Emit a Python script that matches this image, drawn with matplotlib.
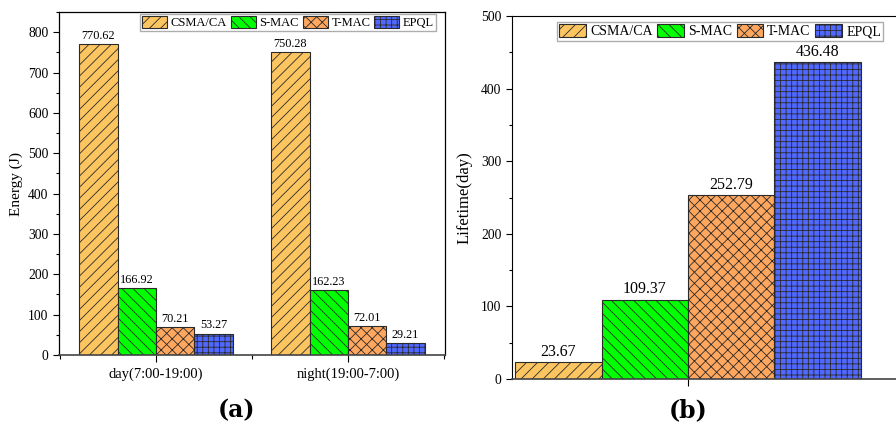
import matplotlib.pyplot as plt
import numpy as np
from matplotlib.ticker import MultipleLocator

plt.rcParams['font.family'] = ['Liberation Serif', 'DejaVu Serif']
plt.rcParams['hatch.linewidth'] = 0.6

# data
protocols = ['CSMA/CA', 'S-MAC', 'T-MAC', 'EPQL']
periods = ['day(7:00-19:00)', 'night(19:00-7:00)']
energy_day = [770.62, 166.92, 70.21, 53.27]
energy_night = [750.28, 162.23, 72.01, 29.21]
lifetime = [23.67, 109.37, 252.79, 436.48]

colors = ['#FCC560', '#00FF00', '#FFA75E', '#5068FF']
hatches = ['///', '\\\\\\', 'xxx', '+++']

fig = plt.figure(figsize=(8.96, 4.32), dpi=100)

# (a) energy
ax1 = fig.add_axes([59/896, 77/432, 386/896, 343/432])
x = np.arange(len(periods))
w = 0.2
for i, p in enumerate(protocols):
    vals = [energy_day[i], energy_night[i]]
    bars = ax1.bar(x + (i - 1.5) * w, vals, w, color=colors[i], hatch=hatches[i],
                   edgecolor='#2a2a2a', linewidth=0.8, label=p)
    for b, v in zip(bars, vals):
        ax1.text(b.get_x() + b.get_width() / 2, v + 5, '%.2f' % v,
                 ha='center', va='bottom', fontsize=8.8)
ax1.set_xlim(-0.505, 1.505)
ax1.set_ylim(0, 850)
ax1.set_xticks(x)
ax1.set_xticklabels(periods, fontsize=10.5)
ax1.xaxis.set_minor_locator(MultipleLocator(0.5))
ax1.yaxis.set_major_locator(MultipleLocator(100))
ax1.yaxis.set_minor_locator(MultipleLocator(50))
ax1.tick_params(axis='y', labelsize=9.8, direction='out', length=4, width=0.8)
ax1.tick_params(axis='y', which='minor', length=2.5, width=0.8)
ax1.tick_params(axis='x', length=5, width=0.8, pad=4)
ax1.tick_params(axis='x', which='minor', length=3, width=0.8)
ax1.set_ylabel('Energy (J)', fontsize=11)
for s in ax1.spines.values():
    s.set_linewidth(0.9)
ax1.spines['bottom'].set_color('#444444')
ax1.spines['bottom'].set_linewidth(1.2)
ax1.legend(loc='upper right', bbox_to_anchor=(436/896, 1 - 14/432),
           bbox_transform=fig.transFigure, ncol=4, fontsize=9, frameon=True,
           fancybox=False, edgecolor='#999999', borderpad=0.15, handlelength=2.0,
           handleheight=1.1, handletextpad=0.3, columnspacing=0.3, borderaxespad=0)
fig.text(237/896, 1 - 410/432, '(a)', ha='center', va='center', fontsize=17,
         fontweight='bold', family='DejaVu Serif')

# (b) lifetime
ax2 = fig.add_axes([512/896, 53/432, 400/896, 363/432])
xb = np.arange(len(protocols)) - 1.5
bars = ax2.bar(xb, lifetime, 1.0, color=colors, hatch=hatches,
               edgecolor='#2a2a2a', linewidth=0.8)
for i, (b, v) in enumerate(zip(bars, lifetime)):
    b.set_label(protocols[i])
    ax2.text(b.get_x() + b.get_width() / 2, v + 3, '%.2f' % v,
             ha='center', va='bottom', fontsize=11.5)
ax2.set_xlim(-2.035, 2.59)
ax2.set_ylim(0, 500)
ax2.set_xticks([0])
ax2.set_xticklabels([''])
ax2.yaxis.set_major_locator(MultipleLocator(100))
ax2.yaxis.set_minor_locator(MultipleLocator(50))
ax2.tick_params(axis='y', labelsize=9.8, direction='out', length=4, width=0.8)
ax2.tick_params(axis='y', which='minor', length=2.5, width=0.8)
ax2.tick_params(axis='x', length=5, width=0.8)
ax2.set_ylabel('Lifetime(day)', fontsize=12, labelpad=6)
ax2.spines['right'].set_visible(False)
ax2.spines['bottom'].set_color('#444444')
ax2.spines['bottom'].set_linewidth(1.2)
ax2.legend(loc='upper right', bbox_to_anchor=(883/896, 1 - 22/432),
           bbox_transform=fig.transFigure, ncol=4, fontsize=10, frameon=True,
           fancybox=False, edgecolor='#999999', borderpad=0.15, handlelength=1.9,
           handleheight=1.1, handletextpad=0.3, columnspacing=0.35, borderaxespad=0)
fig.text(688/896, 1 - 410/432, '(b)', ha='center', va='center', fontsize=17,
         fontweight='bold', family='DejaVu Serif')

fig.savefig('out.png', dpi=100)
